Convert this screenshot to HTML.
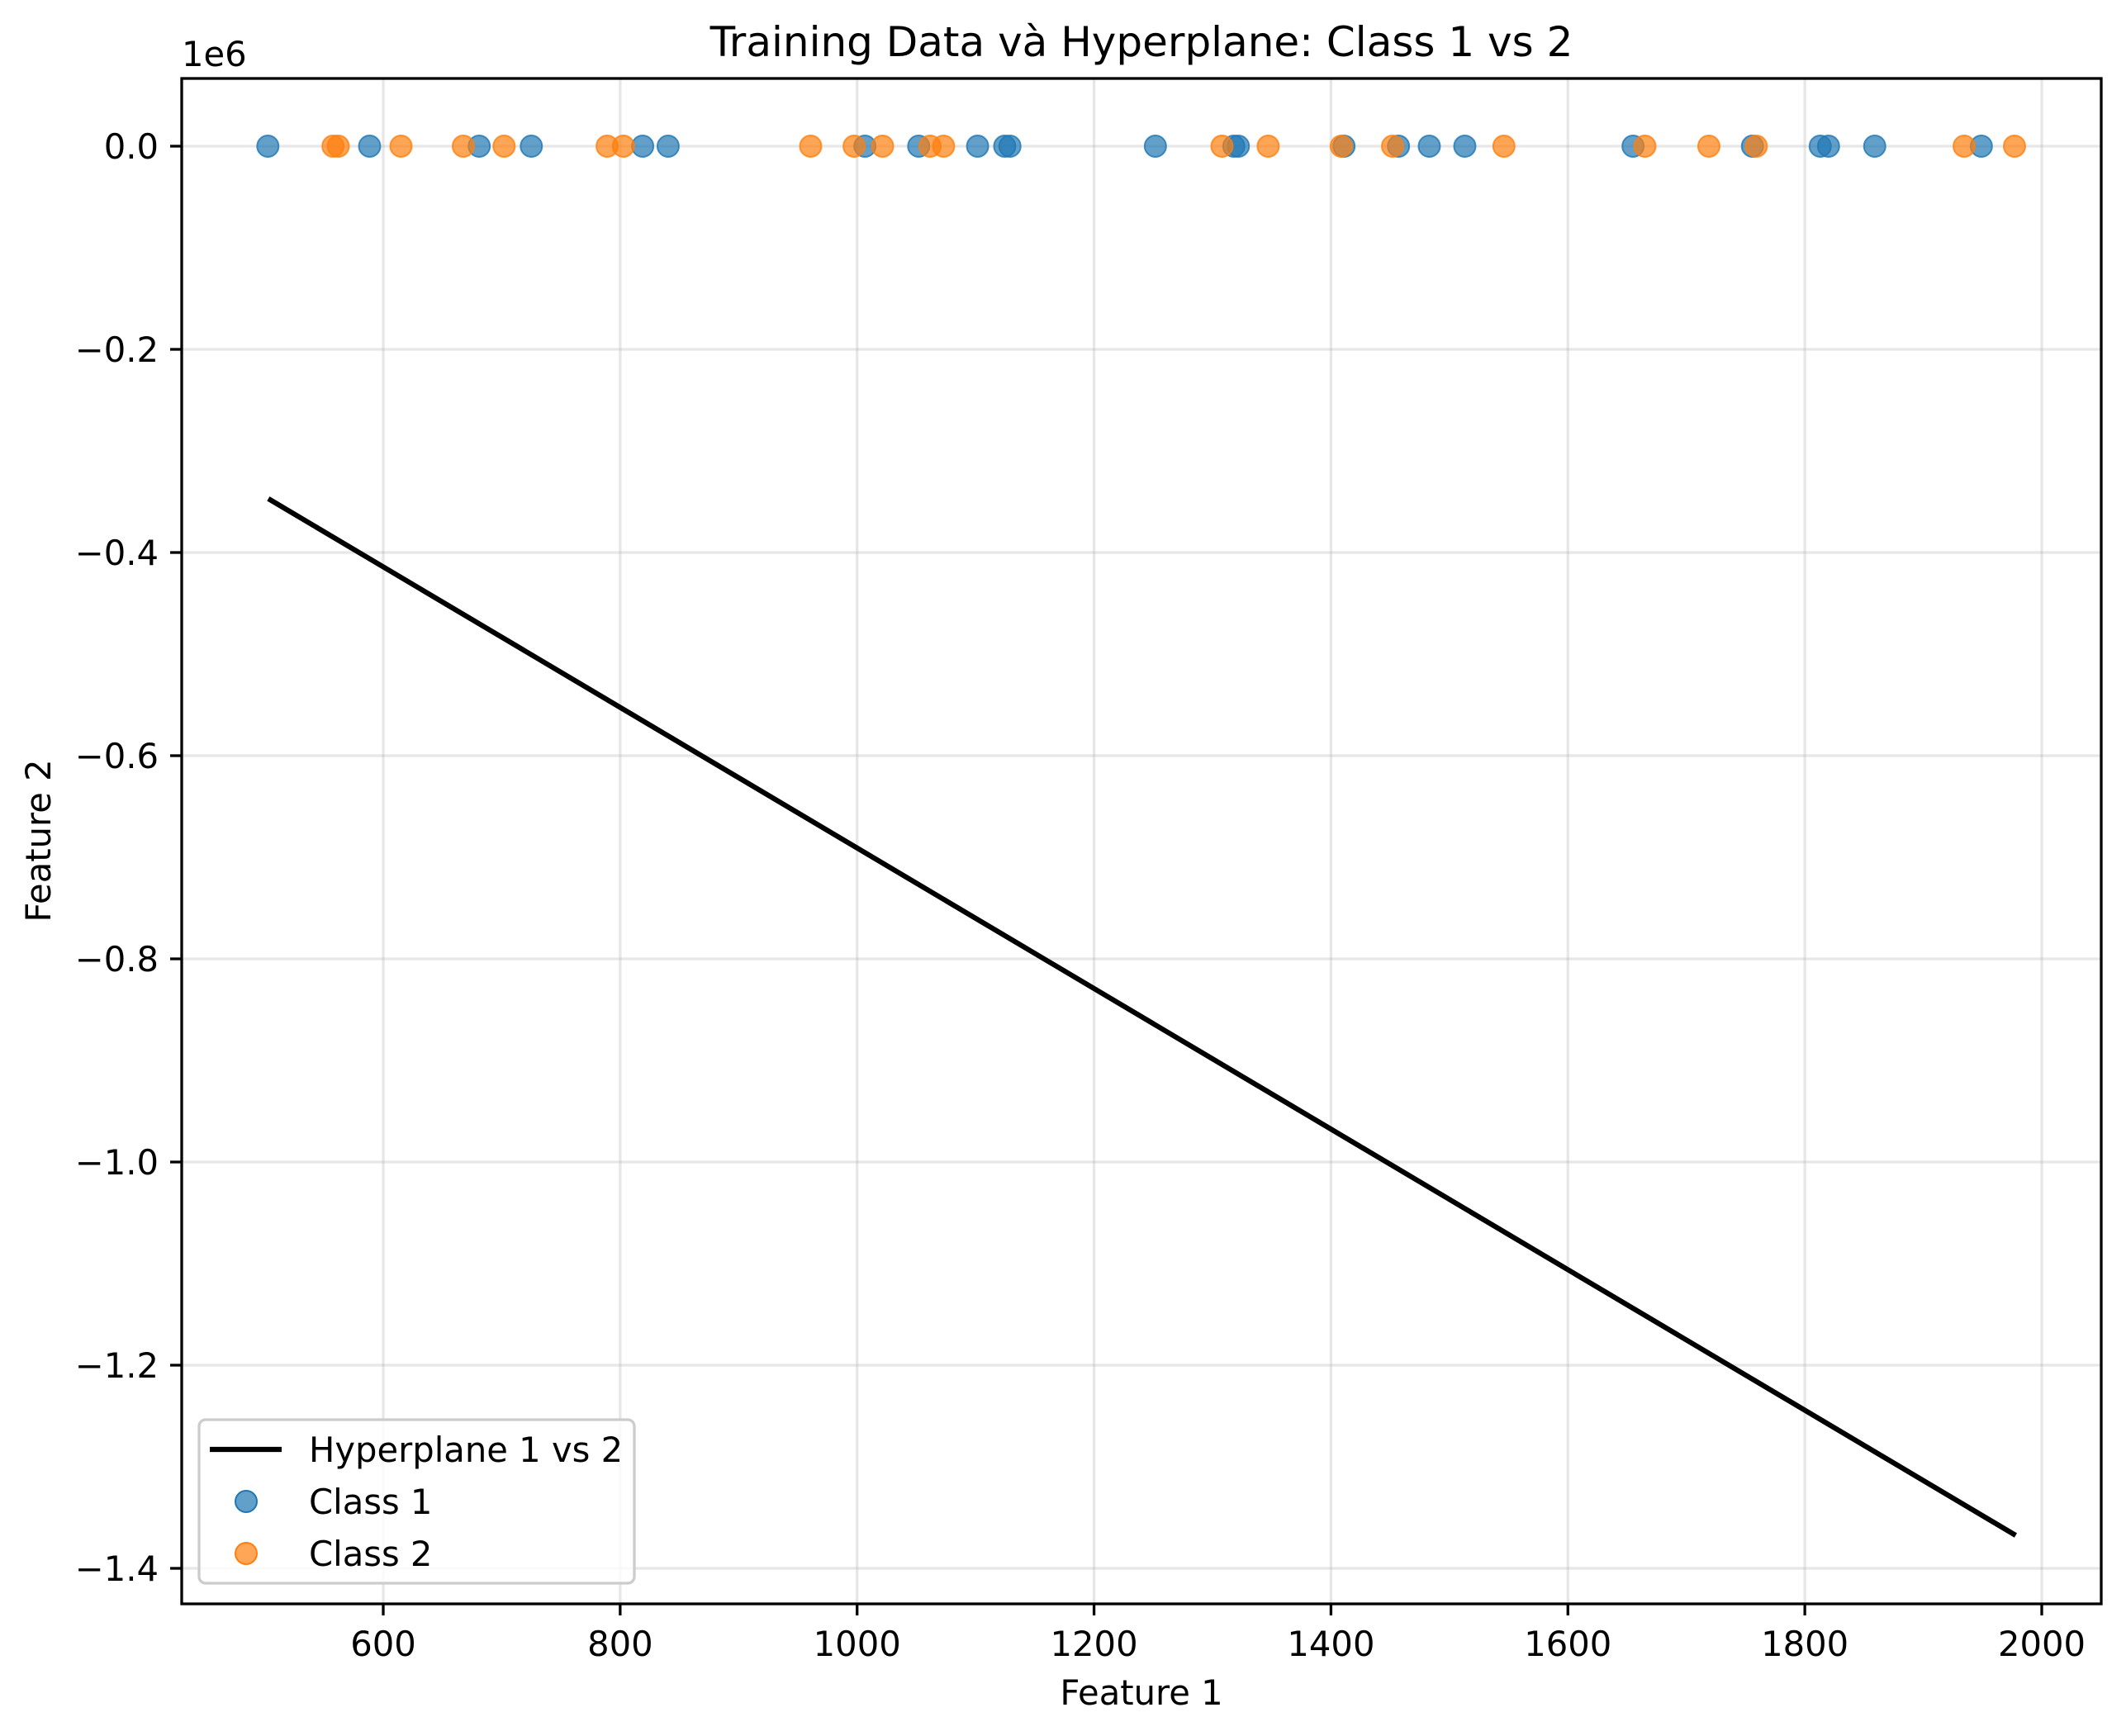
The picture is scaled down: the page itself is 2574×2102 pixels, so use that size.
<!DOCTYPE html>
<html><head><meta charset="utf-8"><style>
body{margin:0;background:#fff}
svg{display:block;font-family:"DejaVu Sans","Liberation Sans",sans-serif}
</style></head><body>
<svg id="chart" width="2574" height="2102" viewBox="0 0 2574 2102" xmlns="http://www.w3.org/2000/svg">
<rect width="2574" height="2102" fill="#fff"/>
<g id="grid"></g>
<g id="marks"></g>
<rect x="220" y="95" width="2324" height="1847" fill="none" stroke="#000" stroke-width="3.3"/>
<g id="ticks"></g>
<text x="1382" y="68" font-size="50" text-anchor="middle">Training Data và Hyperplane: Class 1 vs 2</text>
<text x="220" y="80" font-size="41.7">1e6</text>
<text x="1382" y="2064" font-size="41.7" text-anchor="middle">Feature 1</text>
<text transform="translate(61,1018) rotate(-90)" font-size="41.7" text-anchor="middle">Feature 2</text>
<g>
<rect x="241" y="1719" width="527" height="198" rx="8" fill="#fff" fill-opacity="0.8" stroke="#ccc" stroke-width="3.3"/>
<line x1="254" y1="1755" x2="341" y2="1755" stroke="#000" stroke-width="6.2"/>
<text x="374" y="1770" font-size="41.7">Hyperplane 1 vs 2</text>
<circle cx="298" cy="1818" r="13" fill="#1f77b4" fill-opacity="0.7" stroke="#1f77b4" stroke-width="2"/>
<text x="374" y="1833" font-size="41.7">Class 1</text>
<circle cx="298" cy="1881" r="13" fill="#ff7f0e" fill-opacity="0.7" stroke="#ff7f0e" stroke-width="2"/>
<text x="374" y="1896" font-size="41.7">Class 2</text>
</g>
</svg>
<script>
const xTicks=[600,800,1000,1200,1400,1600,1800,2000];
const yTicks=[0,-0.2,-0.4,-0.6,-0.8,-1.0,-1.2,-1.4];
const yTickLabels=["0.0","−0.2","−0.4","−0.6","−0.8","−1.0","−1.2","−1.4"];
const class1X=[502.6,588.5,681,725,819,840.5,1006.6,1052,1101.7,1124.6,1129,1251.8,1318,1321.8,1411,1457,1483,1513,1655,1755.8,1813,1820,1859,1949];
const class1Y=[0,0,0,0,0,0,0,0,0,0,0,0,0,0,0,0,0,0,0,0,0,0,0,0];
const class2X=[557.6,562,615,667.6,702,789,802.7,960.8,997.5,1021.5,1061.6,1073,1308,1347,1408.7,1452,1546,1665,1719,1759,1934.5,1977];
const class2Y=[0,0,0,0,0,0,0,0,0,0,0,0,0,0,0,0,0,0,0,0,0,0];
const lineX=[503,1978];
const lineY=[-0.347,-1.3675];
const NS="http://www.w3.org/2000/svg";
function sx(v){return 464+(v-600)*(2472-464)/1400;}
function sy(v){return 177-v*1230;}
function mk(tag,attrs,parent){const e=document.createElementNS(NS,tag);for(const k in attrs)e.setAttribute(k,attrs[k]);parent.appendChild(e);return e;}
const grid=document.getElementById('grid'),ticks=document.getElementById('ticks'),marks=document.getElementById('marks');
xTicks.forEach((t,i)=>{
 const g=mk('line',{x1:sx(t),x2:sx(t),y1:95,y2:1942,stroke:'#b0b0b0','stroke-opacity':0.3,'stroke-width':3.3},grid);
 
 
 const tk=mk('line',{x1:sx(t),x2:sx(t),y1:1942,y2:1956,stroke:'#000','stroke-width':3.3},ticks);
 
 
 const tx=mk('text',{x:sx(t),y:2005,'font-size':41.7,'text-anchor':'middle'},ticks);
 tx.textContent=String(t);
 
 
});
yTicks.forEach((t,i)=>{
 const g=mk('line',{x1:220,x2:2544,y1:sy(t),y2:sy(t),stroke:'#b0b0b0','stroke-opacity':0.3,'stroke-width':3.3},grid);
 
 
 const tk=mk('line',{x1:206,x2:220,y1:sy(t),y2:sy(t),stroke:'#000','stroke-width':3.3},ticks);
 
 
 const tx=mk('text',{x:192,y:sy(t)+15,'font-size':41.7,'text-anchor':'end'},ticks);
 tx.textContent=yTickLabels[i];
 
 
});
const ln=mk('line',{x1:sx(lineX[0]),y1:sy(lineY[0]),x2:sx(lineX[1]),y2:sy(lineY[1]),stroke:'#000','stroke-width':6.2},marks);


class1X.forEach((v,i)=>{
 const c=mk('circle',{cx:sx(v),cy:sy(class1Y[i]),r:13,fill:'#1f77b4','fill-opacity':0.7,stroke:'#1f77b4','stroke-width':2,'stroke-opacity':0.8},marks);
 
 
});
class2X.forEach((v,i)=>{
 const c=mk('circle',{cx:sx(v),cy:sy(class2Y[i]),r:13,fill:'#ff7f0e','fill-opacity':0.7,stroke:'#ff7f0e','stroke-width':2,'stroke-opacity':0.8},marks);
 
 
});
</script>
</body></html>
